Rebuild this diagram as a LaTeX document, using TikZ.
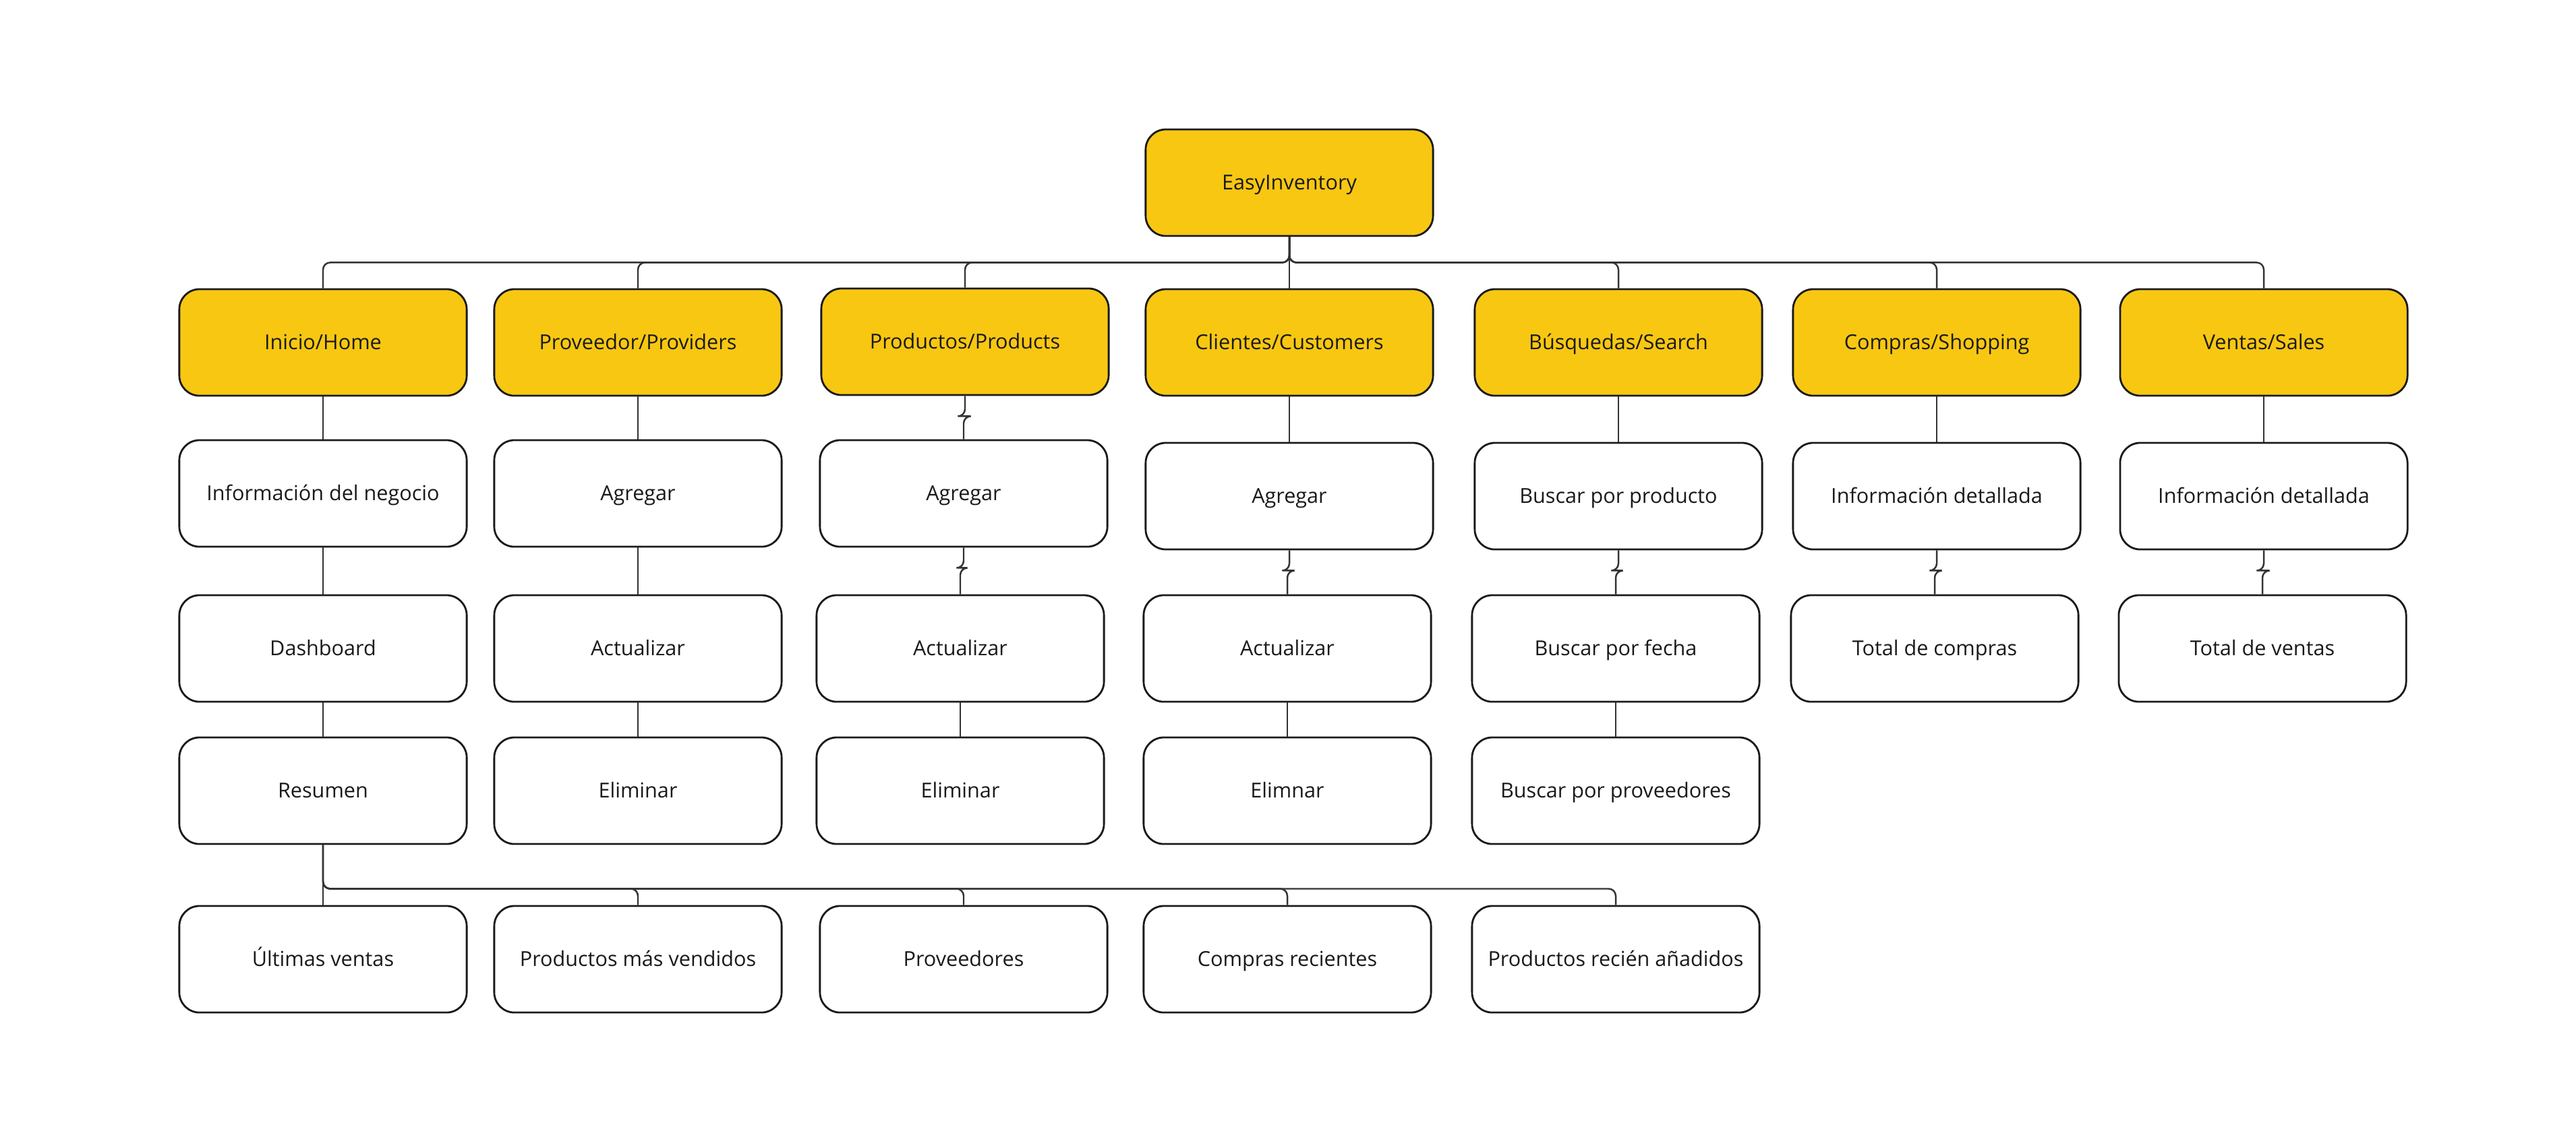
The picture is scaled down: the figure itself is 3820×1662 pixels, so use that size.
\documentclass[tikz,border=0pt]{standalone}
\usepackage{fontspec}
\setmainfont{Open Sans}
\definecolor{boxyellow}{HTML}{F8C712}
\definecolor{boxline}{HTML}{1A1A1A}
\definecolor{linkgray}{HTML}{333333}
\tikzset{
  card/.style={draw=boxline, line width=0.8pt, rounded corners=0.3cm,
    minimum width=4.26cm, minimum height=1.58cm, align=center,
    text height=1.6ex, text depth=0.45ex,
    text=boxline, font=\fontsize{8.7}{10}\selectfont},
  mainbox/.style={card, fill=boxyellow},
  leafbox/.style={card, fill=white},
  link/.style={draw=linkgray, line width=0.7pt, rounded corners=3pt}
}
\begin{document}
\begin{tikzpicture}[x=0.01cm, y=0.01cm]

            % Canvas
            \useasboundingbox (0,0) rectangle (3820,-1662);

            % Root
            \node[mainbox] (root) at (1912,-271) {EasyInventory};

            % Sections
            \node[mainbox] (inicio) at (479,-508) {Inicio/Home};
            \node[mainbox] (proveedor) at (946,-508) {Proveedor/Providers};
            \node[mainbox] (productos) at (1431,-507) {Productos/Products};
            \node[mainbox] (clientes) at (1912,-508) {Clientes/Customers};
            \node[mainbox] (busquedas) at (2400,-508) {Búsquedas/Search};
            \node[mainbox] (compras) at (2872,-508) {Compras/Shopping};
            \node[mainbox] (ventas) at (3357,-508) {Ventas/Sales};

            % Inicio/Home
            \node[leafbox] (negocio) at (479,-732) {Información del negocio};
            \node[leafbox] (dashboard) at (479,-962) {Dashboard};
            \node[leafbox] (resumen) at (479,-1173) {Resumen};

            % Proveedor/Providers
            \node[leafbox] (provagregar) at (946,-732) {Agregar};
            \node[leafbox] (provactualizar) at (946,-962) {Actualizar};
            \node[leafbox] (proveliminar) at (946,-1173) {Eliminar};

            % Productos/Products
            \node[leafbox] (prodagregar) at (1429,-732) {Agregar};
            \node[leafbox] (prodactualizar) at (1424,-962) {Actualizar};
            \node[leafbox] (prodeliminar) at (1424,-1173) {Eliminar};

            % Clientes/Customers
            \node[leafbox] (cliagregar) at (1912,-736) {Agregar};
            \node[leafbox] (cliactualizar) at (1909,-962) {Actualizar};
            \node[leafbox] (clieliminar) at (1909,-1173) {Elimnar};

            % Busquedas/Search
            \node[leafbox] (busproducto) at (2400,-736) {Buscar por producto};
            \node[leafbox] (busfecha) at (2396,-962) {Buscar por fecha};
            \node[leafbox] (busproveedores) at (2396,-1173) {Buscar por proveedores};

            % Compras/Shopping
            \node[leafbox] (cominfo) at (2872,-736) {Información detallada};
            \node[leafbox] (comtotal) at (2869,-962) {Total de compras};

            % Ventas/Sales
            \node[leafbox] (veninfo) at (3357,-736) {Información detallada};
            \node[leafbox] (ventotal) at (3355,-962) {Total de ventas};

            % Resumen
            \node[leafbox] (ultimas) at (479,-1423) {Últimas ventas};
            \node[leafbox] (masvendidos) at (946,-1423) {Productos más vendidos};
            \node[leafbox] (resproveedores) at (1429,-1423) {Proveedores};
            \node[leafbox] (recientes) at (1909,-1423) {Compras recientes};
            \node[leafbox] (anadidos) at (2396,-1423) {Productos recién añadidos};

            % Root to sections
            \draw[link] (root.south) -- ++(0,-38) -| (inicio.north);
            \draw[link] (root.south) -- ++(0,-38) -| (proveedor.north);
            \draw[link] (root.south) -- ++(0,-38) -| (productos.north);
            \draw[link] (root.south) -- (clientes.north);
            \draw[link] (root.south) -- ++(0,-38) -| (busquedas.north);
            \draw[link] (root.south) -- ++(0,-38) -| (compras.north);
            \draw[link] (root.south) -- ++(0,-38) -| (ventas.north);

            % Columns
            \draw[link] (inicio.south) -- (negocio.north);
            \draw[link] (negocio.south) -- (dashboard.north);
            \draw[link] (dashboard.south) -- (resumen.north);

            \draw[link] (proveedor.south) -- (provagregar.north);
            \draw[link] (provagregar.south) -- (provactualizar.north);
            \draw[link] (provactualizar.south) -- (proveliminar.north);

            \draw[link] (productos.south) -- ++(0,-30) -| (prodagregar.north);
            \draw[link] (prodagregar.south) -- ++(0,-30) -| (prodactualizar.north);
            \draw[link] (prodactualizar.south) -- (prodeliminar.north);

            \draw[link] (clientes.south) -- (cliagregar.north);
            \draw[link] (cliagregar.south) -- ++(0,-30) -| (cliactualizar.north);
            \draw[link] (cliactualizar.south) -- (clieliminar.north);

            \draw[link] (busquedas.south) -- (busproducto.north);
            \draw[link] (busproducto.south) -- ++(0,-30) -| (busfecha.north);
            \draw[link] (busfecha.south) -- (busproveedores.north);

            \draw[link] (compras.south) -- (cominfo.north);
            \draw[link] (cominfo.south) -- ++(0,-30) -| (comtotal.north);

            \draw[link] (ventas.south) -- (veninfo.north);
            \draw[link] (veninfo.south) -- ++(0,-30) -| (ventotal.north);

            % Resumen to its items
            \draw[link] (resumen.south) -- (ultimas.north);
            \draw[link] (resumen.south) -- ++(0,-65) -| (masvendidos.north);
            \draw[link] (resumen.south) -- ++(0,-65) -| (resproveedores.north);
            \draw[link] (resumen.south) -- ++(0,-65) -| (recientes.north);
            \draw[link] (resumen.south) -- ++(0,-65) -| (anadidos.north);

\end{tikzpicture}
\end{document}
